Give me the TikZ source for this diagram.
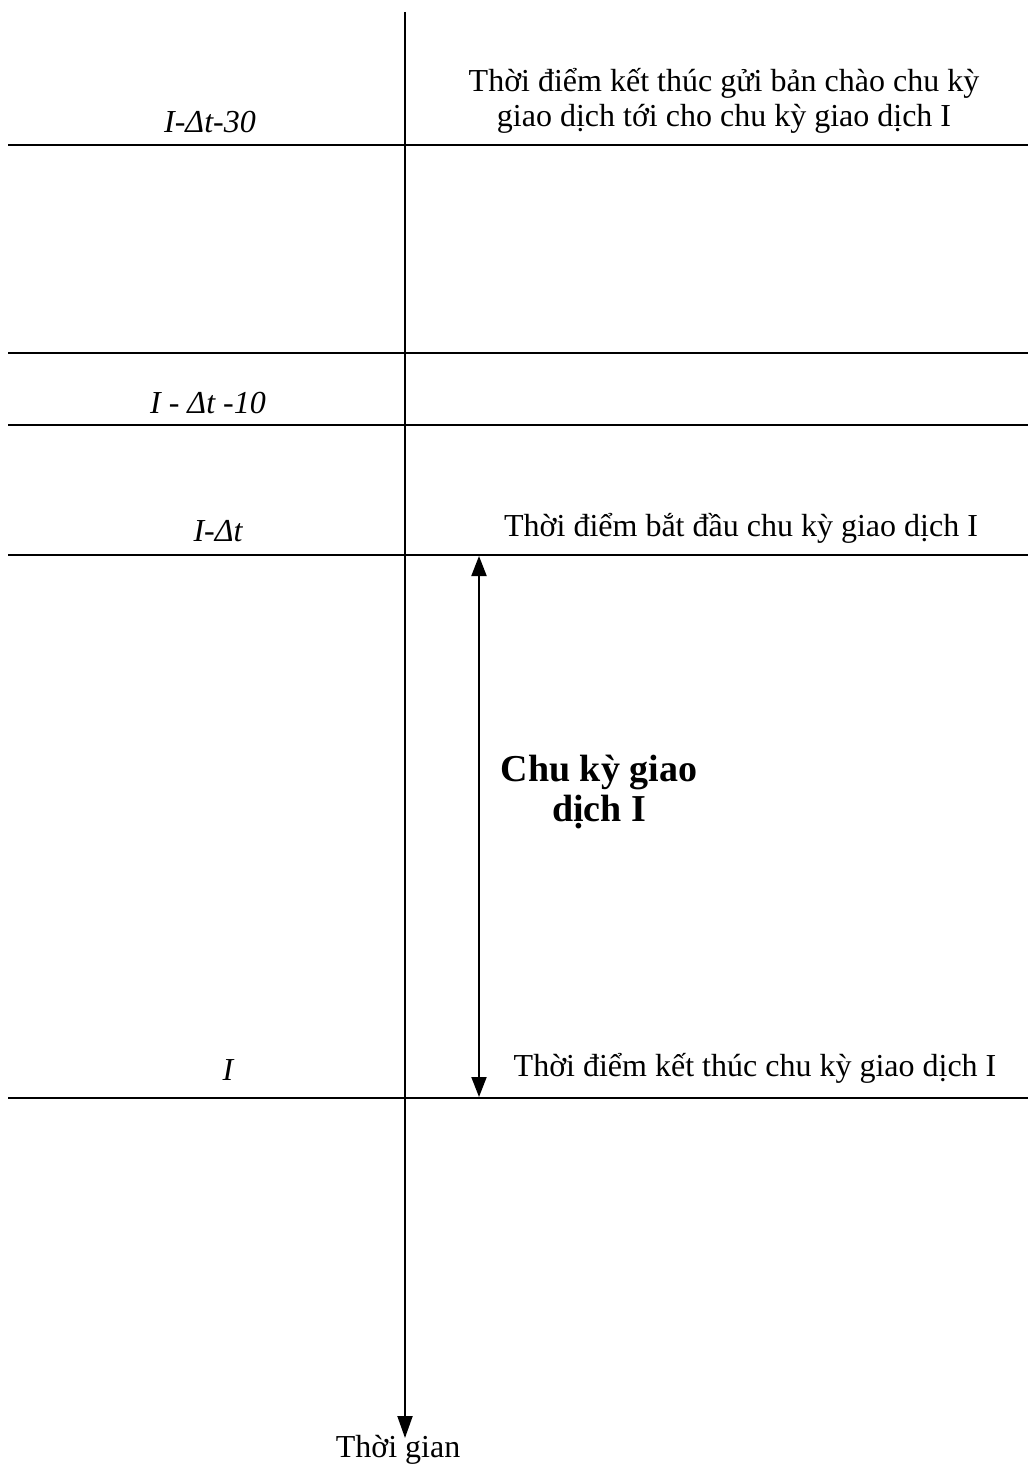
\documentclass[tikz,border=0pt]{standalone}
\usepackage{fontspec}
\setmainfont{Liberation Serif}
\usetikzlibrary{arrows.meta}
\tikzset{
  hline/.style={line width=1.8pt},
  axis/.style={line width=2pt,-{Triangle[width=15pt,length=22pt]}},
  span/.style={line width=2pt,{Triangle[width=15pt,length=20pt]}-{Triangle[width=15pt,length=20pt]}},
  lbl/.style={font=\fontsize{32}{36}\itshape, inner sep=0pt},
  txt/.style={font=\fontsize{32}{35.5}\selectfont, inner sep=0pt, align=center},
  bold/.style={font=\fontsize{38}{40}\bfseries, inner sep=0pt, align=center}
}
\begin{document}
\begin{tikzpicture}[x=1pt,y=-1pt]
\useasboundingbox (0,0) rectangle (1034,1469);
% horizontal time marks
\coordinate (l1a) at (8,145);  \coordinate (l1b) at (1028,145);
\coordinate (l2a) at (8,353);  \coordinate (l2b) at (1028,353);
\coordinate (l3a) at (8,425);  \coordinate (l3b) at (1028,425);
\coordinate (l4a) at (8,555);  \coordinate (l4b) at (1028,555);
\coordinate (l5a) at (8,1098); \coordinate (l5b) at (1028,1098);
\foreach \n in {1,...,5} {\draw[hline] (l\n a) -- (l\n b);}
% time axis
\coordinate (top) at (405,12);
\coordinate (bot) at (405,1438);
\draw[axis] (top) -- (bot);
% cycle span arrow
\coordinate (s1) at (479,556);
\coordinate (s2) at (479,1097);
\draw[span] (s1) -- (s2);
% left labels
\node[lbl] (a) at (210,122) {I-\textit{Δ}t-30};
\node[lbl] (b) at (208,403) {I - \textit{Δ}t -10};
\node[lbl] (c) at (218,531) {I-\textit{Δ}t};
\node[lbl] (d) at (228,1070) {I};
% right texts
\node[txt] (e) at (724,101) {Thời điểm kết thúc gửi bản chào chu kỳ\\giao dịch tới cho chu kỳ giao dịch I};
\node[txt] (f) at (741,528) {Thời điểm bắt đầu chu kỳ giao dịch I};
\node[txt] (g) at (755,1068) {Thời điểm kết thúc chu kỳ giao dịch I};
\node[bold] (h) at (599,792) {Chu kỳ giao\\dịch I};
\node[txt] (i) at (398,1450) {Thời gian};
\end{tikzpicture}
\end{document}
